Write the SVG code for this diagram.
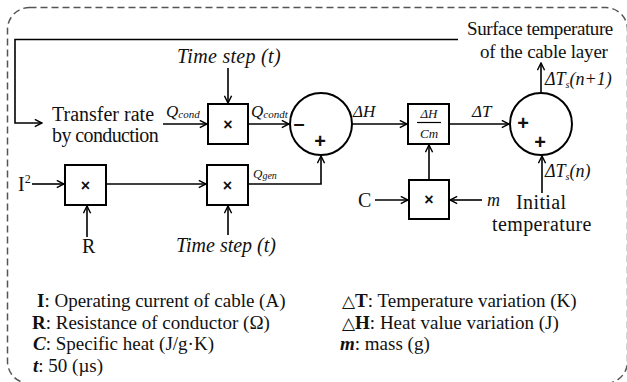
<svg xmlns="http://www.w3.org/2000/svg" width="627" height="382" viewBox="0 0 627 382">
<defs>
<style>
.t{font-family:"Liberation Serif","Times New Roman",serif;fill:#111}
.i{font-style:italic}
.b{font-weight:bold}
.s{font-family:"Liberation Sans",Arial,sans-serif;font-weight:bold;fill:#111;text-anchor:middle}
.box{fill:#fff;stroke:#000;stroke-width:2}
.cir{fill:#fff;stroke:#000;stroke-width:2}
.arr{fill:none;stroke:#000;stroke-width:1.6;marker-end:url(#ah)}
.border{fill:none;stroke:#555;stroke-width:1.5;stroke-dasharray:7 4}
</style>
<marker id="ah" viewBox="0 0 10 10" refX="9" refY="5" markerWidth="9" markerHeight="9" markerUnits="userSpaceOnUse" orient="auto">
<path d="M1,1 L9,5 L1,9" fill="none" stroke="#000" stroke-width="1.6"/>
</marker>
</defs>
<rect class="border" x="7.5" y="7.5" width="620" height="376" rx="22"/>

<g id="connectors">
<path class="arr" d="M458,39.5 H15 V123 H42"/>
<path class="arr" d="M163,124 H207"/>
<path class="arr" d="M228,68 V103"/>
<path class="arr" d="M248,124 H289"/>
<path class="arr" d="M352,124 H407"/>
<path class="arr" d="M449,124 H509"/>
<path class="arr" d="M541,93 V63"/>
<path class="arr" d="M32,184 H64"/>
<path class="arr" d="M87,237 V206"/>
<path class="arr" d="M106,184 H206"/>
<path class="arr" d="M228,235 V206"/>
<path class="arr" d="M248,184 H321 V156"/>
<path class="arr" d="M375,200 H408"/>
<path class="arr" d="M482,200 H450"/>
<path class="arr" d="M429,180 V145"/>
<path class="arr" d="M542,193 V156"/>
</g>

<g id="timestep-top"><text class="t i" x="177" y="63" font-size="20" letter-spacing="0.3">Time step (t)</text></g>
<g id="transfer-rate">
<text class="t" x="52" y="121" font-size="20">Transfer rate</text>
<text class="t" x="52" y="142" font-size="20" letter-spacing="-0.6">by conduction</text>
</g>
<g id="label-qcond"><text class="t i" x="166" y="117" font-size="17">Q<tspan font-size="11" dy="1">cond</tspan></text></g>
<g id="mult1">
<rect class="box" x="208" y="104" width="40" height="40"/>
<text class="s" x="228" y="130" font-size="16">×</text>
</g>
<g id="label-qcondt"><text class="t i" x="251" y="117" font-size="17">Q<tspan font-size="11" dy="1">condt</tspan></text></g>
<g id="sum1">
<circle class="cir" cx="321" cy="124" r="31"/>
<text class="s" x="299" y="130" font-size="20">–</text>
<text class="s" x="320" y="148" font-size="20">+</text>
</g>
<g id="label-dh"><text class="t i" x="353" y="117" font-size="17">ΔH</text></g>
<g id="divide">
<rect class="box" x="408" y="104" width="41" height="40"/>
<text class="t i" x="429" y="118" font-size="13" text-anchor="middle">ΔH</text>
<line x1="417" y1="122.5" x2="441" y2="122.5" stroke="#000" stroke-width="1.2"/>
<text class="t i" x="429" y="138" font-size="13" text-anchor="middle">Cm</text>
</g>
<g id="label-dt"><text class="t i" x="472" y="117" font-size="17">ΔT</text></g>
<g id="sum2">
<circle class="cir" cx="541" cy="124" r="31"/>
<text class="s" x="523" y="130" font-size="20">+</text>
<text class="s" x="540" y="149" font-size="20">+</text>
</g>
<g id="surface">
<text class="t" x="467" y="35" font-size="19" letter-spacing="-0.4">Surface temperature</text>
<text class="t" x="480" y="58" font-size="19" letter-spacing="-0.2">of the cable layer</text>
</g>
<g id="label-ts1"><text class="t i" x="545" y="85" font-size="18">ΔT<tspan font-size="10" dy="3">s</tspan><tspan dy="-3">(n+1)</tspan></text></g>
<g id="input-i2"><text class="t" x="18" y="191" font-size="20">I<tspan font-size="12" dy="-8">2</tspan></text></g>
<g id="mult2">
<rect class="box" x="65" y="165" width="41" height="40"/>
<text class="s" x="85.5" y="191" font-size="16">×</text>
</g>
<g id="input-r"><text class="t" x="82" y="253" font-size="20">R</text></g>
<g id="mult3">
<rect class="box" x="207" y="165" width="41" height="40"/>
<text class="s" x="227.5" y="191" font-size="16">×</text>
</g>
<g id="timestep-bottom"><text class="t i" x="176" y="252" font-size="20">Time step (t)</text></g>
<g id="label-qgen"><text class="t i" x="253" y="178" font-size="13" fill="#333">Q<tspan font-size="10" dy="1">gen</tspan></text></g>
<g id="input-c"><text class="t" x="358" y="207" font-size="20">C</text></g>
<g id="mult4">
<rect class="box" x="409" y="180" width="40" height="39"/>
<text class="s" x="429" y="205" font-size="16">×</text>
</g>
<g id="input-m"><text class="t i" x="487" y="206" font-size="18">m</text></g>
<g id="label-ts0"><text class="t i" x="545" y="177" font-size="18">ΔT<tspan font-size="10" dy="3">s</tspan><tspan dy="-3">(n)</tspan></text></g>
<g id="initial">
<text class="t" x="516" y="209" font-size="20" letter-spacing="0.4">Initial</text>
<text class="t" x="492" y="231" font-size="20" letter-spacing="0.4">temperature</text>
</g>

<g id="legend" font-size="19">
<text class="t" x="37" y="307"><tspan class="b">I</tspan>: Operating current of cable (A)</text>
<text class="t" x="32" y="329"><tspan class="b">R</tspan>: Resistance of conductor (Ω)</text>
<text class="t" x="33" y="350"><tspan class="b i">C</tspan>: Specific heat (J/g·K)</text>
<text class="t" x="33" y="372"><tspan class="b i">t</tspan>: 50 (µs)</text>
<text class="t" x="342" y="307"><tspan font-family="DejaVu Sans,sans-serif" font-size="17">△</tspan><tspan class="b">T</tspan>: Temperature variation (K)</text>
<text class="t" x="342" y="329"><tspan font-family="DejaVu Sans,sans-serif" font-size="17">△</tspan><tspan class="b">H</tspan>: Heat value variation (J)</text>
<text class="t" x="340" y="350"><tspan class="b i">m</tspan>: mass (g)</text>
</g>
</svg>
